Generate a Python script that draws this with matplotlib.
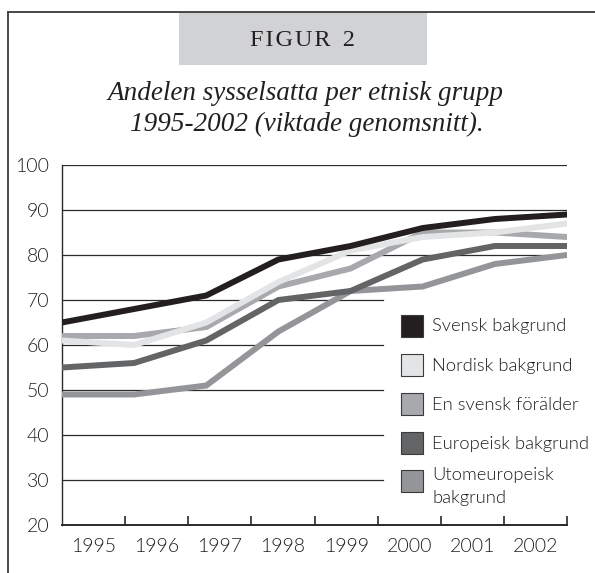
import matplotlib
matplotlib.use("Agg")
import matplotlib.pyplot as plt
from matplotlib.patches import Rectangle
from matplotlib.lines import Line2D

W, H = 595, 573

years = ["1995", "1996", "1997", "1998", "1999", "2000", "2001", "2002"]
series_names = ["Svensk bakgrund", "Nordisk bakgrund", "En svensk förälder",
                "Europeisk bakgrund", "Utomeuropeisk\nbakgrund"]
svensk = [65, 68, 71, 79, 82, 86, 88, 89]
nordisk = [61, 60, 65, 74, 81, 84, 85, 87]
en_svensk = [62, 62, 64, 73, 77, 85, 85, 84]
europeisk = [55, 56, 61, 70, 72, 79, 82, 82]
utomeuropeisk = [49, 49, 51, 63, 72, 73, 78, 80]
values = [svensk, nordisk, en_svensk, europeisk, utomeuropeisk]
colors = ["#231f20", "#e3e4e5", "#a7a9ac", "#636466", "#939598"]
yticks = [20, 30, 40, 50, 60, 70, 80, 90, 100]

SANS = ["Lato", "DejaVu Sans"]
SERIF = ["Liberation Serif", "DejaVu Serif"]
SANS_W = 300

fig = plt.figure(figsize=(W / 100, H / 100), dpi=100)

def fx(px):
    return px / W

def fy(py):
    return 1 - py / H

# outer frame
fig.add_artist(Line2D([fx(7.5), fx(7.5)], [fy(12), fy(H + 5)], color="#3a3a3a", lw=1.3))
fig.add_artist(Line2D([fx(7.5), fx(W + 5)], [fy(12), fy(12)], color="#3a3a3a", lw=1.3))

# header box
fig.add_artist(Rectangle((fx(179), fy(65)), fx(427) - fx(179), fy(12) - fy(65),
                         facecolor="#d1d2d4", edgecolor="none", transform=fig.transFigure))
fig.text(fx(302), fy(40), "F\u200aI\u200aG\u200aU\u200aR  2", ha="center", va="center",
         fontsize=17.5, family=SERIF, color="#231f20")
fig.text(fx(305), fy(93), "Andelen sysselsatta per etnisk grupp", ha="center", va="center",
         fontsize=19.5, family=SERIF, style="italic", color="#231f20")
fig.text(fx(307), fy(124), "1995-2002 (viktade genomsnitt).", ha="center", va="center",
         fontsize=19.5, family=SERIF, style="italic", color="#231f20")

# axes
ax = fig.add_axes([fx(62), fy(525), fx(567) - fx(62), fy(165) - fy(525)])
n = len(years)
xs = list(range(n))
ax.set_xlim(0, n - 1)
ax.set_ylim(20, 100)

for y in yticks[1:]:
    if y >= 80:
        ax.axhline(y, color="#2a2a2a", lw=0.9, zorder=1)
    else:
        ax.axhline(y, xmin=0, xmax=(383 - 62) / (567 - 62), color="#2a2a2a", lw=0.9, zorder=1)

for i in reversed(range(len(values))):
    ax.plot(xs, values[i], color=colors[i], lw=4.3, solid_capstyle="round",
            solid_joinstyle="miter", zorder=3 + (len(values) - i))

for s in ["top", "right"]:
    ax.spines[s].set_visible(False)
ax.spines["left"].set_color("#2a2a2a")
ax.spines["left"].set_linewidth(1.0)
ax.spines["bottom"].set_color("#2a2a2a")
ax.spines["bottom"].set_linewidth(1.4)

ax.set_yticks(yticks)
ax.set_yticklabels([str(v) for v in yticks], family=SANS, fontsize=14,
                   fontweight=SANS_W, color="#231f20")
ax.tick_params(axis="y", length=0, pad=9)

step = (n - 1) / n
ax.set_xticks([step * (k + 1) for k in range(n)])
ax.set_xticklabels([])
ax.set_xticks([step * (k + 0.5) for k in range(n)], minor=True)
ax.set_xticklabels(years, minor=True, family=SANS, fontsize=14,
                   fontweight=SANS_W, color="#231f20")
ax.tick_params(axis="x", which="major", direction="in", length=6.5, width=1.2, color="#2a2a2a")
ax.tick_params(axis="x", which="minor", length=0, pad=9)

# legend (manual)
leg_y = [325.5, 364.5, 404, 442.5, 481]
for name, c, yc in zip(series_names, colors, leg_y):
    fig.add_artist(Rectangle((fx(401), fy(yc + 11)), fx(22), fy(0) - fy(22),
                             facecolor=c, edgecolor="#3a3a3a", lw=0.8,
                             transform=fig.transFigure))
    if "\n" in name:
        l1, l2 = name.split("\n")
        fig.text(fx(432), fy(yc - 6), l1, ha="left", va="center", fontsize=13.2,
                 family=SANS, fontweight=SANS_W, color="#231f20")
        fig.text(fx(432), fy(yc + 17), l2, ha="left", va="center", fontsize=13.2,
                 family=SANS, fontweight=SANS_W, color="#231f20")
    else:
        fig.text(fx(432), fy(yc + 1), name, ha="left", va="center", fontsize=13.2,
                 family=SANS, fontweight=SANS_W, color="#231f20")

fig.savefig("out.png", dpi=100)
